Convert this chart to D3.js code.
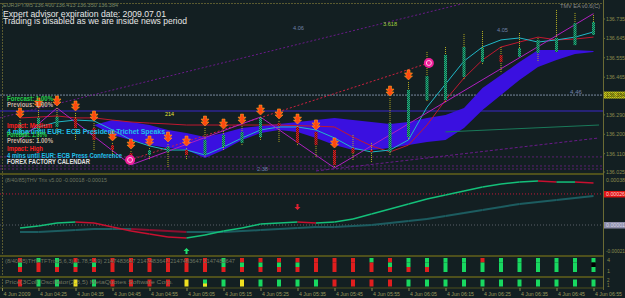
<!DOCTYPE html>
<html><head><meta charset="utf-8">
<script src="https://cdn.jsdelivr.net/npm/d3@7"></script>
<style>body{margin:0;background:#131f22;}svg{display:block}</style>
</head><body>
<script>
// ---------------- DATA ----------------
const timeLabels = ["4 Jun 2009","4 Jun 04:25","4 Jun 04:35","4 Jun 04:45","4 Jun 04:55","4 Jun 05:05","4 Jun 05:15","4 Jun 05:25","4 Jun 05:35","4 Jun 05:45","4 Jun 05:55","4 Jun 06:05","4 Jun 06:15","4 Jun 06:25","4 Jun 06:35","4 Jun 06:45","4 Jun 06:55"];
const priceTicks = [136.735,136.645,136.555,136.465,136.290,136.200,136.110,136.025];
const priceTickLabels = ["136.735","136.645","136.555","136.465","136.290","136.200","136.110","136.025"];
const oscTicks = [38,-21];             // x 1e-5
const oscTickLabels = ["0.00038","-0.00021"];

const candleOpen  = [136.197,136.211,136.234,136.276,136.229,136.150,136.113,136.104,136.118,136.127,136.104,136.141,136.160,136.187,136.252,136.234,136.211,136.127,136.136,136.127,136.118,136.187,136.359,136.359,136.466,136.535,136.568,136.559,136.577,136.582,136.614,136.661];
const candleHigh  = [136.266,136.313,136.322,136.299,136.252,136.160,136.122,136.136,136.155,136.136,136.229,136.215,136.238,136.280,136.262,136.238,136.211,136.127,136.197,136.160,136.368,136.443,136.582,136.605,136.665,136.679,136.605,136.670,136.647,136.777,136.763,136.754];
const candleLow   = [136.174,136.160,136.197,136.174,136.127,136.095,136.058,136.081,136.044,136.081,136.095,136.127,136.150,136.174,136.164,136.146,136.095,136.044,136.081,136.067,136.104,136.174,136.350,136.350,136.452,136.522,136.484,136.559,136.535,136.582,136.614,136.661];
const candleClose = [136.252,136.276,136.280,136.229,136.174,136.127,136.090,136.127,136.141,136.104,136.174,136.197,136.211,136.276,136.238,136.160,136.150,136.058,136.113,136.118,136.252,136.406,136.470,136.568,136.605,136.600,136.535,136.600,136.638,136.647,136.716,136.721];
const fractalBars = [0,1,2,3,4,5,6,7,8,9,10,11,12,13,14,15,16,17,20,21];

const cloudStart = 4;
const cloudA = [136.243,136.266,136.257,136.243,136.220,136.206,136.187,136.206,136.229,136.238,136.248,136.257,136.266,136.276,136.266,136.257,136.248,136.257,136.276,136.290,136.322,136.415,136.475,136.535,136.591,136.591,136.591,136.587];
const cloudB = [136.243,136.197,136.174,136.150,136.136,136.127,136.090,136.127,136.174,136.206,136.220,136.211,136.183,136.150,136.127,136.127,136.136,136.150,136.164,136.174,136.229,136.313,136.382,136.452,136.512,136.545,136.573,136.582];

const maCyan = [136.197,136.234,136.257,136.266,136.262,136.220,136.174,136.146,136.127,136.127,136.104,136.141,136.183,136.220,136.234,136.234,136.220,136.183,136.136,136.118,136.127,136.174,136.326,136.433,136.540,136.605,136.638,136.647,136.628,136.638,136.651,136.675];
const maRed  = [136.276,136.280,136.285,136.276,136.276,136.266,136.257,136.252,136.248,136.243,136.243,136.243,136.243,136.243,136.243,136.240,136.238,136.234,136.187,136.146,136.118,136.150,136.243,136.359,136.461,136.545,136.605,136.628,136.651,136.638,136.642,136.651];
const zigzagBars   = [0,2,6,13,17,31];
const zigzagPrices = [136.174,136.322,136.058,136.280,136.044,136.760];

const hLineGray = 136.382, hLineBlue = 136.308, hLinesPurple = [136.095,136.053,136.039];
const trendPurple = {bars:[-1.1,24.3], prices:[136.276,136.814]};
const trendRed    = {bars:[5.95,22.1], prices:[136.081,136.531]};
const trendPurple2= {bars:[16,31.3], prices:[136.030,136.183]};
const trendGreen  = {bars:[23,31.3], prices:[136.211,136.243]};
const circleBars = [5.95,22.1], circlePrices = [136.081,136.531];

const oscFast = [-1.9,-0.2,2.3,3.1,2.3,-1.1,-4.4,-6.9,-9.4,-10.2,-7.7,-4.4,-1.9,1.4,2.3,3.1,2.3,3.1,5.6,9.7,13.9,18.1,22.2,25.5,28.9,32.2,34.7,36.3,37.2,36.3,36.3,35.5];
const oscSlow = [-5.2,-5.2,-4.4,-3.6,-2.7,-2.7,-2.7,-3.6,-4.4,-5.2,-5.2,-5.2,-4.4,-3.6,-2.7,-1.9,-1.1,-1.1,-0.2,0.6,2.3,3.9,5.6,8.1,10.6,13.1,15.6,18.1,19.7,21.4,23.0,24.7];
const oscLevelRed = 26.4, oscLevelGray = 0.6;

const hist1Top = "rggrrrrrrrrgrrrrrrrgrggggrgggggg";
const hist1Mid = "grgggrrrrrrgggggrrrrggggggggggg";
const hist1Bot = "rrrrrrrrrrrrrrrrrrrrrrrggggggggg";
const hist2    = "rggygrrrryggyggggrrrrggggggggggg";
const hist2Low = "..........y.....................";

// ---------------- DRAW ----------------
const W=625,H=298, RX=603;
const svg=d3.select('body').append('svg').attr('width',W).attr('height',H);
const defs=svg.append('defs');
function checker(id,a,b){const p=defs.append('pattern').attr('id',id).attr('width',2).attr('height',2).attr('patternUnits','userSpaceOnUse');
 p.append('rect').attr('width',2).attr('height',2).attr('fill',a);
 p.append('rect').attr('width',1).attr('height',1).attr('fill',b);
 p.append('rect').attr('x',1).attr('y',1).attr('width',1).attr('height',1).attr('fill',b);}
checker('bull','#23b27c','#0d5a44');
checker('bear','#d42020','#6a1414');
checker('ylw','#c8c81e','#8a8a10');
defs.append('clipPath').attr('id','mainClip').append('rect').attr('x',0).attr('y',3).attr('width',RX).attr('height',169);

svg.append('rect').attr('width',W).attr('height',H).attr('fill','#131f22');

const x=d3.scaleLinear().domain([0,31]).range([20,593.5]);
const yP=d3.scaleLinear().domain([136.025,136.735]).range([172,19]);
const yO=d3.scaleLinear().domain([-21,38]).range([251,180]);

const main=svg.append('g').attr('clip-path','url(#mainClip)');
// horizontal lines
main.append('line').attr('x1',0).attr('x2',RX).attr('y1',yP(hLineGray)).attr('y2',yP(hLineGray)).attr('stroke','#7a8aa0').attr('stroke-dasharray','2,1');
main.append('line').attr('x1',0).attr('x2',RX).attr('y1',yP(hLineBlue)).attr('y2',yP(hLineBlue)).attr('stroke','#3a28c8');
hLinesPurple.forEach(p=>main.append('line').attr('x1',0).attr('x2',RX).attr('y1',yP(p)).attr('y2',yP(p)).attr('stroke','#5a2070').attr('stroke-dasharray','2,2'));

// cloud
const cIdx=d3.range(cloudA.length).map(i=>i+cloudStart);
main.append('path').datum(cIdx).attr('fill','#3a10e0')
 .attr('d',d3.area().x(i=>x(i)).y0(i=>yP(cloudA[i-cloudStart])).y1(i=>yP(cloudB[i-cloudStart])).curve(d3.curveLinear));

// trend lines
function tline(t,color,dash){main.append('line').attr('x1',x(t.bars[0])).attr('x2',x(t.bars[1])).attr('y1',yP(t.prices[0])).attr('y2',yP(t.prices[1])).attr('stroke',color).attr('stroke-dasharray',dash);}
tline(trendPurple,'#6a1a8a','2,2');
tline(trendRed,'#d02040','2,2');
tline(trendPurple2,'#6a1a8a','3,2');
tline(trendGreen,'#1a7a5a',null);

// MAs
const idx=d3.range(32);
main.append('path').datum(idx).attr('fill','none').attr('stroke','#c01830').attr('stroke-width',1).attr('d',d3.line().x(i=>x(i)).y(i=>yP(maRed[i])));
main.append('path').datum(idx).attr('fill','none').attr('stroke','#20b8c8').attr('stroke-width',1).attr('d',d3.line().x(i=>x(i)).y(i=>yP(maCyan[i])));
main.append('path').datum(d3.range(zigzagBars.length)).attr('fill','none').attr('stroke','#b020c0').attr('stroke-width',1).attr('d',d3.line().x(k=>x(zigzagBars[k])).y(k=>yP(zigzagPrices[k])));

// candles
idx.forEach(i=>{
 const bull=candleClose[i]>=candleOpen[i];
 main.append('line').attr('x1',x(i)).attr('x2',x(i)).attr('y1',yP(candleHigh[i])).attr('y2',yP(candleLow[i])).attr('stroke','#b8b020').attr('stroke-dasharray','1,1');
 const t=yP(Math.max(candleOpen[i],candleClose[i])), b=yP(Math.min(candleOpen[i],candleClose[i]));
 main.append('rect').attr('x',x(i)-1.5).attr('width',3).attr('y',t).attr('height',Math.max(1,b-t)).attr('fill',bull?'url(#bull)':'url(#bear)');
});
// fractal arrows
fractalBars.forEach(i=>{
 const cx=x(i), ty=yP(candleHigh[i])-2;
 main.append('path').attr('transform',`translate(${cx},${ty})`)
  .attr('d','M0,0 L-4,-4 L-1.5,-4 L-4,-7 L-1.5,-7 L-1.5,-10 L1.5,-10 L1.5,-7 L4,-7 L1.5,-4 L4,-4 Z')
  .attr('fill','#ff4810').attr('stroke','#ffa020').attr('stroke-width',0.6);
});
// circles
circleBars.forEach((b,k)=>{
 main.append('circle').attr('cx',x(b)).attr('cy',yP(circlePrices[k])).attr('r',5).attr('fill','#f0209a');
 main.append('circle').attr('cx',x(b)).attr('cy',yP(circlePrices[k])).attr('r',2.5).attr('fill','none').attr('stroke','#ffc0e0').attr('stroke-width',1);
});

// texts in main
function txt(g,s,xx,yy,size,fill,len,weight){const t=g.append('text').attr('x',xx).attr('y',yy).attr('font-family','Liberation Sans, Arial, sans-serif').attr('font-size',size).attr('fill',fill).text(s);
 if(len) t.attr('textLength',len).attr('lengthAdjust','spacingAndGlyphs'); if(weight) t.attr('font-weight',weight); return t;}
txt(svg,'EURJPY.M5  136.400  136.413  136.350  136.384',3,7,5,'#7a8a6a',115);
txt(svg,'Expert advisor expiration date: 2009.07.01',3,16.6,8.2,'#e6e6e6',163);
txt(svg,'Trading is disabled as we are inside news period',3,24.4,8.2,'#e6e6e6',184);
txt(svg,'TMV EA v0.6(C)',560,8,5.5,'#8a8a8a',40);
txt(svg,'4.06',293,30,5.5,'#7080a8',11);
txt(svg,'3.618',383,26,5.5,'#a0d040',14);
txt(svg,'4.05',497,32,5.5,'#7080a8',11);
txt(svg,'214',165,116,5.5,'#e8e840',9);
txt(svg,'2.38',257,171,5.5,'#7080a8',11);
txt(svg,'4.46',570,94,5.5,'#7080a8',12);
const news=[['Forecast: 1.00%',100.7,'#22d048',46],['Previous: 1.00%',106.7,'#c8b4a0',46],['Impact: Medium',127.7,'#ff2020',45],['4 mins until EUR: ECB President Trichet Speaks',134,'#20c0e8',158],['Forecast: 1.00%',136.7,'#22d048',40],['Previous: 1.00%',143.3,'#c8b4a0',46],['Impact: High',150.7,'#ff2020',36],['4 mins until EUR: ECB Press Conference',157.7,'#20c0e8',115],['FOREX FACTORY CALENDAR',164.3,'#e0e0e0',83]];
news.forEach(n=>txt(svg,n[0],7,n[1],6.3,n[2],n[3],'bold'));

// borders
svg.append('line').attr('x1',0).attr('x2',RX).attr('y1',3.5).attr('y2',3.5).attr('stroke','#5a5a30').attr('stroke-dasharray','2,1');
svg.append('line').attr('x1',2.5).attr('x2',2.5).attr('y1',3).attr('y2',288).attr('stroke','#5a5a30').attr('stroke-dasharray','2,1');
[[173,2],[255,2],[276,2],[287.5,1]].forEach(s=>svg.append('rect').attr('x',0).attr('y',s[0]).attr('width',RX).attr('height',s[1]).attr('fill','#4e501c'));
svg.append('line').attr('x1',RX+0.5).attr('x2',RX+0.5).attr('y1',0).attr('y2',290).attr('stroke','#6a6a34');

// price axis
priceTicks.forEach((p,k)=>{svg.append('line').attr('x1',RX).attr('x2',RX+2).attr('y1',yP(p)).attr('y2',yP(p)).attr('stroke','#6a6a34');
 txt(svg,priceTickLabels[k],606,yP(p)+2,5.5,'#8c8c4e',19);});
svg.append('rect').attr('x',604).attr('y',yP(hLineGray)-3.5).attr('width',21).attr('height',7).attr('fill','url(#ylw)');
txt(svg,'136.384',606,yP(hLineGray)+2,5.5,'#4a4a08',19);

// oscillator
svg.append('line').attr('x1',0).attr('x2',RX).attr('y1',yO(oscLevelRed)).attr('y2',yO(oscLevelRed)).attr('stroke','#c01838').attr('stroke-dasharray','1,2');
svg.append('line').attr('x1',0).attr('x2',RX).attr('y1',yO(oscLevelGray)).attr('y2',yO(oscLevelGray)).attr('stroke','#5a6068').attr('stroke-dasharray','1,2');
for(let i=0;i<31;i++){
 const up=oscSlow[i+1]>=oscSlow[i];
 svg.append('line').attr('x1',x(i)).attr('x2',x(i+1)).attr('y1',yO(oscSlow[i])).attr('y2',yO(oscSlow[i+1])).attr('stroke',up?'#1c5c60':'#8a1030').attr('stroke-width',2);
}
for(let i=0;i<31;i++){
 const up=oscFast[i+1]>=oscFast[i];
 svg.append('line').attr('x1',x(i)).attr('x2',x(i+1)).attr('y1',yO(oscFast[i])).attr('y2',yO(oscFast[i+1])).attr('stroke',up?'#14c07a':'#c81030').attr('stroke-width',1.5);
}
svg.append('path').attr('transform',`translate(${x(15)},${207})`).attr('d','M0,3 L-3,0 L-1,0 L-1,-3 L1,-3 L1,0 L3,0 Z').attr('fill','#e02030');
svg.append('path').attr('transform',`translate(${x(9)},${251})`).attr('d','M0,-3 L-3,0 L-1,0 L-1,3 L1,3 L1,0 L3,0 Z').attr('fill','#20e070');
txt(svg,'(8/40/85)THV Trix v5.00  -0.00018  -0.00015',5,182,5.5,'#6e7660',102);
oscTicks.forEach((v,k)=>txt(svg,oscTickLabels[k],606,yO(v)+2,5.5,'#8c8c4e',19));
svg.append('rect').attr('x',604).attr('y',yO(oscLevelRed)-3).attr('width',21).attr('height',6.5).attr('fill','#e01414');
txt(svg,'0.00026',606,yO(oscLevelRed)+2,5.5,'#ffd0d0',19);
svg.append('rect').attr('x',604).attr('y',yO(oscLevelGray)-3).attr('width',21).attr('height',6.5).attr('fill','#8c8ca8');
txt(svg,'0.00001',606,yO(oscLevelGray)+2,5.5,'#d8d8e8',19);

// histograms
const col={r:'#e01e1e',g:'#18d860',y:'#f0e020'};
idx.forEach(i=>{
 const xx=x(i)-2;
 svg.append('rect').attr('x',xx).attr('y',258).attr('width',4).attr('height',4.5).attr('fill',col[hist1Top[i]]);
 svg.append('rect').attr('x',xx).attr('y',262.5).attr('width',4).attr('height',4.5).attr('fill',col[hist1Mid[i]]);
 svg.append('rect').attr('x',xx).attr('y',267).attr('width',4).attr('height',5).attr('fill',col[hist1Bot[i]]);
 svg.append('rect').attr('x',xx).attr('y',279.5).attr('width',4).attr('height',7).attr('fill',col[hist2[i]]);
 if(hist2Low[i]==='y') svg.append('rect').attr('x',xx).attr('y',283.5).attr('width',4).attr('height',3).attr('fill',col.y);
});
txt(svg,'(8/40/85)THV TFTrix(5,6,3) (1.78,5.59) 2147483647 2147483647 2147483647 2147483647',5,263,5.5,'#6e7660',230);
txt(svg,'Price(3Col) Oscillator(2,3,5) MetaQuotes Software Corp.',5,284,5.5,'#6e7660',168);
txt(svg,'4',607,262,5.5,'#8c8c4e');txt(svg,'1',607,273,5.5,'#8c8c4e');
txt(svg,'2',607,282,4.5,'#8c8c4e');txt(svg,'1',607,287,4.5,'#8c8c4e');

// time axis
timeLabels.forEach((s,k)=>{const xx=k===0?2:x(2*k-1);
 svg.append('line').attr('x1',xx+0.5).attr('x2',xx+0.5).attr('y1',288).attr('y2',291).attr('stroke','#8c8c4e');
 txt(svg,s,xx+1.5,296,5.5,'#9a9a5e',27);});
</script>
</body></html>
